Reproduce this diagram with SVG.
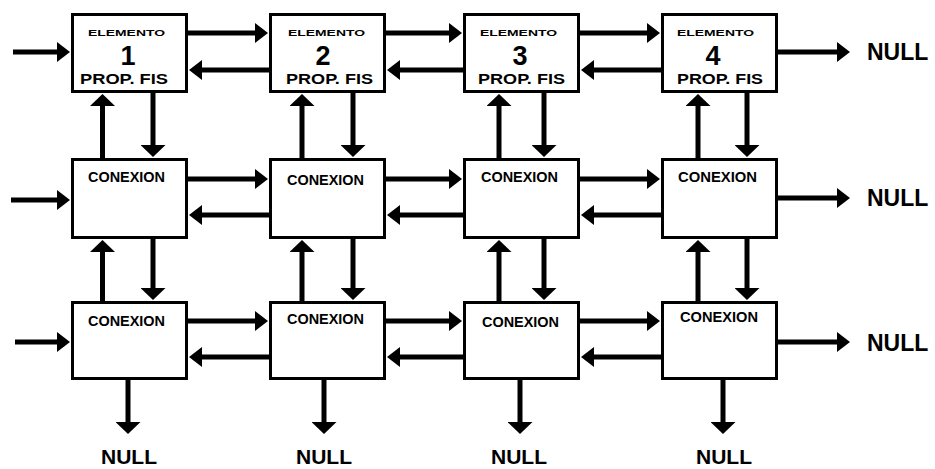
<svg xmlns="http://www.w3.org/2000/svg" width="935" height="469" viewBox="0 0 935 469">
<style>
.box{fill:#fff;stroke:#000;stroke-width:3}
.ln{fill:none;stroke:#000;stroke-width:5}
.h{marker-end:url(#ah)}
.v{marker-end:url(#av)}
.t{font-family:"Liberation Sans",Arial,sans-serif;font-weight:bold;fill:#000}
.el{font-size:9px}
.num{font-size:27px;text-anchor:middle}
.pf{font-size:15px}
.cx{font-size:14px}
.nl{font-size:23px}
.nlc{font-size:21px;text-anchor:middle}
</style>
<defs>
<marker id="ah" markerUnits="userSpaceOnUse" viewBox="0 0 13 20" refX="1" refY="10" markerWidth="13" markerHeight="20" orient="auto">
<path d="M0,0 L13,10 L0,20 z" fill="#000"/>
</marker>
<marker id="av" markerUnits="userSpaceOnUse" viewBox="0 0 12 25" refX="1" refY="12.5" markerWidth="12" markerHeight="25" orient="auto">
<path d="M0,0 L12,12.5 L0,25 z" fill="#000"/>
</marker>
</defs>
<rect width="935" height="469" fill="#fff"/>

<g id="connectors">
<path class="ln h" d="M13,52 H58"/>
<path class="ln h" d="M11,200 H58"/>
<path class="ln h" d="M15,342 H58"/>
<path class="ln h" d="M778,52 H838"/>
<path class="ln h" d="M778,198 H838"/>
<path class="ln h" d="M778,342 H838"/>
<path class="ln h" d="M188,33 H256"/>
<path class="ln h" d="M269,70 H201"/>
<path class="ln h" d="M386,33 H450"/>
<path class="ln h" d="M463,70 H399"/>
<path class="ln h" d="M580,33 H648"/>
<path class="ln h" d="M661,70 H593"/>
<path class="ln h" d="M188,179 H256"/>
<path class="ln h" d="M269,215 H201"/>
<path class="ln h" d="M386,179 H450"/>
<path class="ln h" d="M463,215 H399"/>
<path class="ln h" d="M580,179 H648"/>
<path class="ln h" d="M661,215 H593"/>
<path class="ln h" d="M188,321 H256"/>
<path class="ln h" d="M269,357 H201"/>
<path class="ln h" d="M386,321 H450"/>
<path class="ln h" d="M463,357 H399"/>
<path class="ln h" d="M580,321 H648"/>
<path class="ln h" d="M661,357 H593"/>
<path class="ln v" d="M102.5,158 V105"/>
<path class="ln v" d="M153,93 V146"/>
<path class="ln v" d="M302,158 V105"/>
<path class="ln v" d="M353,93 V146"/>
<path class="ln v" d="M499,158 V105"/>
<path class="ln v" d="M544,93 V146"/>
<path class="ln v" d="M698,158 V105"/>
<path class="ln v" d="M747,93 V146"/>
<path class="ln v" d="M102.5,301 V251"/>
<path class="ln v" d="M153,239 V289"/>
<path class="ln v" d="M302,301 V251"/>
<path class="ln v" d="M353,239 V289"/>
<path class="ln v" d="M499,301 V251"/>
<path class="ln v" d="M544,239 V289"/>
<path class="ln v" d="M698,301 V251"/>
<path class="ln v" d="M747,239 V289"/>
<path class="ln v" d="M128,380 V423"/>
<path class="ln v" d="M324,380 V423"/>
<path class="ln v" d="M520,380 V423"/>
<path class="ln v" d="M723,380 V423"/>
</g>

<g id="e1">
<rect class="box" x="72.5" y="14.5" width="114" height="77"/>
<text class="t el" x="88" y="36" textLength="77" lengthAdjust="spacingAndGlyphs">ELEMENTO</text>
<text class="t num" x="128" y="65">1</text>
<text class="t pf" x="80" y="84" textLength="88" lengthAdjust="spacingAndGlyphs">PROP. FIS</text>
</g>
<g id="e2">
<rect class="box" x="270.5" y="14.5" width="114" height="77"/>
<text class="t el" x="288" y="36" textLength="77" lengthAdjust="spacingAndGlyphs">ELEMENTO</text>
<text class="t num" x="323" y="65">2</text>
<text class="t pf" x="286" y="84" textLength="87" lengthAdjust="spacingAndGlyphs">PROP. FIS</text>
</g>
<g id="e3">
<rect class="box" x="464.5" y="14.5" width="114" height="77"/>
<text class="t el" x="480" y="36" textLength="77" lengthAdjust="spacingAndGlyphs">ELEMENTO</text>
<text class="t num" x="520" y="65">3</text>
<text class="t pf" x="478" y="84" textLength="87" lengthAdjust="spacingAndGlyphs">PROP. FIS</text>
</g>
<g id="e4">
<rect class="box" x="662.5" y="14.5" width="114" height="77"/>
<text class="t el" x="677" y="36" textLength="77" lengthAdjust="spacingAndGlyphs">ELEMENTO</text>
<text class="t num" x="713" y="65">4</text>
<text class="t pf" x="677" y="84" textLength="86" lengthAdjust="spacingAndGlyphs">PROP. FIS</text>
</g>

<g id="c21">
<rect class="box" x="72.5" y="159.5" width="114" height="78"/>
<text class="t cx" x="88" y="182" textLength="77" lengthAdjust="spacingAndGlyphs">CONEXION</text>
</g>
<g id="c22">
<rect class="box" x="270.5" y="159.5" width="114" height="78"/>
<text class="t cx" x="287" y="185" textLength="77" lengthAdjust="spacingAndGlyphs">CONEXION</text>
</g>
<g id="c23">
<rect class="box" x="464.5" y="159.5" width="114" height="78"/>
<text class="t cx" x="481" y="182" textLength="77" lengthAdjust="spacingAndGlyphs">CONEXION</text>
</g>
<g id="c24">
<rect class="box" x="662.5" y="159.5" width="114" height="78"/>
<text class="t cx" x="678" y="182" textLength="79" lengthAdjust="spacingAndGlyphs">CONEXION</text>
</g>

<g id="c31">
<rect class="box" x="72.5" y="302.5" width="114" height="76"/>
<text class="t cx" x="88" y="326" textLength="77" lengthAdjust="spacingAndGlyphs">CONEXION</text>
</g>
<g id="c32">
<rect class="box" x="270.5" y="302.5" width="114" height="76"/>
<text class="t cx" x="287" y="324" textLength="77" lengthAdjust="spacingAndGlyphs">CONEXION</text>
</g>
<g id="c33">
<rect class="box" x="464.5" y="302.5" width="114" height="76"/>
<text class="t cx" x="482" y="327" textLength="77" lengthAdjust="spacingAndGlyphs">CONEXION</text>
</g>
<g id="c34">
<rect class="box" x="662.5" y="302.5" width="114" height="76"/>
<text class="t cx" x="680" y="322" textLength="78" lengthAdjust="spacingAndGlyphs">CONEXION</text>
</g>

<g id="nulls">
<text class="t nl" x="867" y="60">NULL</text>
<text class="t nl" x="867" y="206">NULL</text>
<text class="t nl" x="867" y="351">NULL</text>
<text class="t nlc" x="129" y="464">NULL</text>
<text class="t nlc" x="324" y="464">NULL</text>
<text class="t nlc" x="519" y="464">NULL</text>
<text class="t nlc" x="724" y="464">NULL</text>
</g>
</svg>
